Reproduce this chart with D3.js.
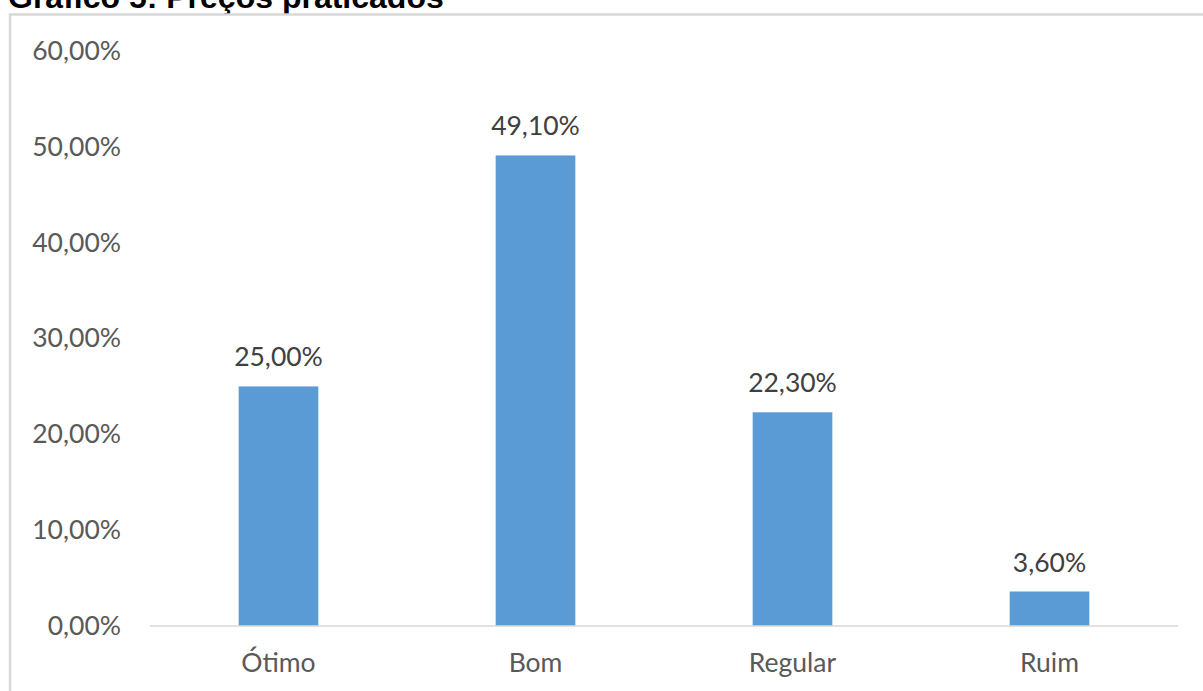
<!DOCTYPE html>
<html>
<head>
<meta charset="utf-8">
<script src="https://cdn.jsdelivr.net/npm/d3@7"></script>
<style>
  html, body { margin: 0; padding: 0; background: #fff; }
  svg { display: block; }
</style>
</head>
<body>
<svg id="chart" width="1203" height="691"></svg>
<script>
const title = "Gráfico 5: Preços praticados";
const categories = ["Ótimo", "Bom", "Regular", "Ruim"];
const values = [25.0, 49.1, 22.3, 3.6];
const yTicks = [0, 10, 20, 30, 40, 50, 60];

const fmt = v => v.toFixed(2).replace(".", ",") + "%";

const svg = d3.select("#chart");
const W = 1203, H = 691;

// Title (partly cut at top, as in source)
svg.append("text")
  .attr("x", 8).attr("y", 8)
  .attr("font-family", "Liberation Sans, Arial, sans-serif")
  .attr("font-weight", "bold")
  .attr("font-size", 32)
  .attr("fill", "#000")
  .text(title);

// Frame
svg.append("path")
  .attr("d", `M10,${H} V14.5 H${W}`)
  .attr("fill", "none")
  .attr("stroke", "#d9d9d9")
  .attr("stroke-width", 2.5);

const x = d3.scaleBand().domain(categories).range([150, 1178]).paddingInner(0.69).paddingOuter(0.345);
const y = d3.scaleLinear().domain([0, 60]).range([626, 51]);

const font = "Lato, Carlito, Calibri, sans-serif";
const fs = 26.5;

// Y axis labels
const yAxis = d3.axisLeft(y).tickValues(yTicks).tickFormat(d => fmt(d)).tickSize(0).tickPadding(0);
const gy = svg.append("g").attr("transform", "translate(121,0)").call(yAxis);
gy.select(".domain").remove();
gy.selectAll("text").attr("font-family", font).attr("font-size", fs).attr("fill", "#595959");

// Bars
svg.append("g").selectAll("rect").data(values).join("rect")
  .attr("x", (d, i) => x(categories[i]))
  .attr("width", x.bandwidth())
  .attr("y", d => y(d))
  .attr("height", d => y(0) - y(d))
  .attr("fill", "#5b9bd5");

// X axis
const xAxis = d3.axisBottom(x).tickSize(0).tickPadding(0);
const gx = svg.append("g").attr("transform", "translate(0,626)").call(xAxis);
gx.select(".domain").attr("stroke", "#d9d9d9").attr("stroke-width", 1.5).attr("d", "M150,0H1178");
gx.selectAll("text").attr("font-family", font).attr("font-size", fs).attr("fill", "#595959")
  .attr("dy", null).attr("y", 46);

// Data labels
svg.append("g").selectAll("text").data(values).join("text")
  .attr("x", (d, i) => x(categories[i]) + x.bandwidth() / 2)
  .attr("y", d => y(d) - 20)
  .attr("text-anchor", "middle")
  .attr("font-family", font).attr("font-size", fs).attr("fill", "#404040")
  .text(d => fmt(d));
</script>
</body>
</html>
